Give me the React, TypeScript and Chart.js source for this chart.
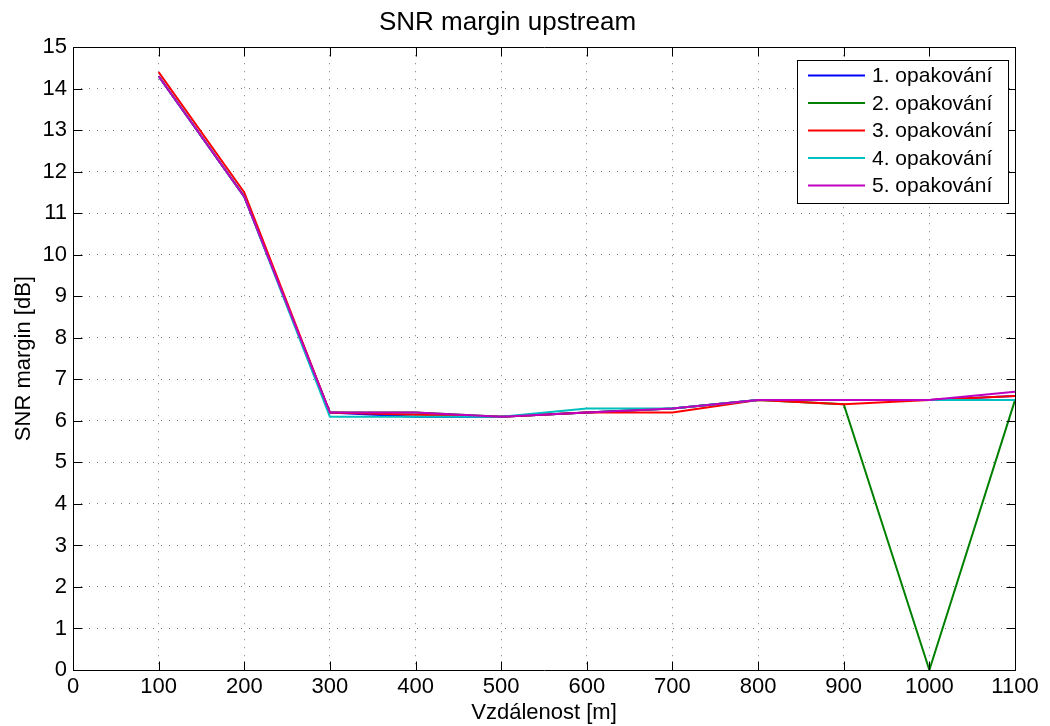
import React, { useEffect, useRef } from "react";
import { Chart, registerables } from "chart.js";

Chart.register(...registerables);

const distances = [100, 200, 300, 400, 500, 600, 700, 800, 900, 1000, 1100];
const run1 = [14.3, 11.4, 6.2, 6.1, 6.1, 6.2, 6.3, 6.5, 6.5, 6.5, 6.6];
const run2 = [14.3, 11.4, 6.2, 6.2, 6.1, 6.2, 6.3, 6.5, 6.4, 0, 6.5];
const run3 = [14.4, 11.5, 6.2, 6.15, 6.1, 6.2, 6.2, 6.5, 6.4, 6.5, 6.6];
const run4 = [14.3, 11.4, 6.1, 6.1, 6.1, 6.3, 6.3, 6.5, 6.5, 6.5, 6.5];
const run5 = [14.3, 11.4, 6.2, 6.2, 6.1, 6.2, 6.3, 6.5, 6.5, 6.5, 6.7];
const seriesLabels = ["1. opakování", "2. opakování", "3. opakování", "4. opakování", "5. opakování"];
const seriesColors = ["#0000ff", "#008000", "#ff0000", "#00bfbf", "#bf00bf"];
const titleText = "SNR margin upstream";
const xTitle = "Vzdálenost [m]";
const yTitle = "SNR margin [dB]";

const FONT = "'Liberation Sans', Arial, Helvetica, sans-serif";

const frameTicks = {
  id: "frameTicks",
  afterDatasetsDraw(chart: any) {
    const { ctx, chartArea, scales } = chart;
    const { left, right, top, bottom } = chartArea;
    ctx.save();
    ctx.strokeStyle = "#000";
    ctx.lineWidth = 1;
    const L = Math.round(left) + 0.5;
    const R = Math.round(right) + 0.5;
    const T = Math.round(top) + 0.5;
    const B = Math.round(bottom) + 0.5;
    ctx.beginPath();
    ctx.rect(L, T, R - L, B - T);
    ctx.stroke();
    const tl = 9;
    ctx.beginPath();
    scales.x.ticks.forEach((t: any) => {
      const x = Math.round(scales.x.getPixelForValue(t.value)) + 0.5;
      ctx.moveTo(x, B);
      ctx.lineTo(x, B - tl);
      ctx.moveTo(x, T);
      ctx.lineTo(x, T + tl);
    });
    scales.y.ticks.forEach((t: any) => {
      const y = Math.round(scales.y.getPixelForValue(t.value)) + 0.5;
      ctx.moveTo(L, y);
      ctx.lineTo(L + tl, y);
      ctx.moveTo(R, y);
      ctx.lineTo(R - tl, y);
    });
    ctx.stroke();
    ctx.restore();
  },
  afterDraw(chart: any) {
    const { ctx } = chart;
    ctx.save();
    const bx = 797.5, by = 60.5, bw = 211, bh = 143;
    ctx.fillStyle = "#fff";
    ctx.fillRect(bx, by, bw, bh);
    ctx.strokeStyle = "#000";
    ctx.lineWidth = 1;
    ctx.strokeRect(bx, by, bw, bh);
    const rowY = [75.5, 103, 130.5, 158, 185.5];
    ctx.font = `21px ${FONT}`;
    ctx.textBaseline = "middle";
    ctx.textAlign = "left";
    chart.data.datasets.forEach((ds: any, i: number) => {
      const y = rowY[i];
      ctx.strokeStyle = ds.borderColor;
      ctx.lineWidth = 2;
      ctx.beginPath();
      ctx.moveTo(808, y);
      ctx.lineTo(865, y);
      ctx.stroke();
      ctx.fillStyle = "#000";
      ctx.fillText(ds.label, 872, y + 1);
    });
    ctx.restore();
  },
};

export default function App() {
  const ref = useRef<HTMLCanvasElement | null>(null);
  useEffect(() => {
    if (!ref.current) return;
    const runs = [run1, run2, run3, run4, run5];
    const chart = new Chart(ref.current, {
      type: "line",
      data: {
        datasets: runs.map((r, i) => ({
          label: seriesLabels[i],
          data: distances.map((d, j) => ({ x: d, y: r[j] })),
          borderColor: seriesColors[i],
          backgroundColor: seriesColors[i],
          borderWidth: 2,
          pointRadius: 0,
          tension: 0,
          fill: false,
          order: 5 - i,
        })),
      },
      options: {
        responsive: false,
        animation: false,
        devicePixelRatio: 1,
        layout: { padding: { left: 0, right: 35, top: 0, bottom: 0 } },
        plugins: {
          legend: { display: false },
          tooltip: { enabled: false },
          title: {
            display: true,
            text: titleText,
            color: "#000",
            font: { family: FONT, size: 26, weight: "normal", lineHeight: 1.2 },
            padding: { top: 7, bottom: 9 },
          },
        },
        scales: {
          x: {
            type: "linear",
            min: 0,
            max: 1100,
            afterFit: (s: any) => { s.height = 56; },
            ticks: {
              stepSize: 100,
              color: "#000",
              padding: 4,
              maxRotation: 0,
              autoSkip: false,
              font: { family: FONT, size: 22 },
              callback: (v: any) => String(v),
            },
            grid: { color: "#777", lineWidth: 1, drawTicks: false },
            border: { display: false, dash: [1, 7] },
            title: {
              display: true,
              text: xTitle,
              color: "#000",
              font: { family: FONT, size: 22, lineHeight: 1.2 },
              padding: { top: 0, bottom: 0 },
            },
          },
          y: {
            type: "linear",
            min: 0,
            max: 15,
            afterFit: (s: any) => { s.width = 73; },
            ticks: {
              stepSize: 1,
              color: "#000",
              padding: 6,
              autoSkip: false,
              font: { family: FONT, size: 22 },
              callback: (v: any) => String(v),
            },
            grid: { color: "#777", lineWidth: 1, drawTicks: false },
            border: { display: false, dash: [1, 7] },
            title: {
              display: true,
              text: yTitle,
              color: "#000",
              font: { family: FONT, size: 22, lineHeight: 1.2 },
              padding: { top: 11, bottom: 0 },
            },
          },
        },
      },
      plugins: [frameTicks],
    } as any);
    return () => chart.destroy();
  }, []);
  return (
    <div style={{ position: "fixed", left: 0, top: 0, width: 1050, height: 726, background: "#fff" }}>
      <canvas ref={ref} width={1050} height={726} style={{ display: "block" }} />
    </div>
  );
}
